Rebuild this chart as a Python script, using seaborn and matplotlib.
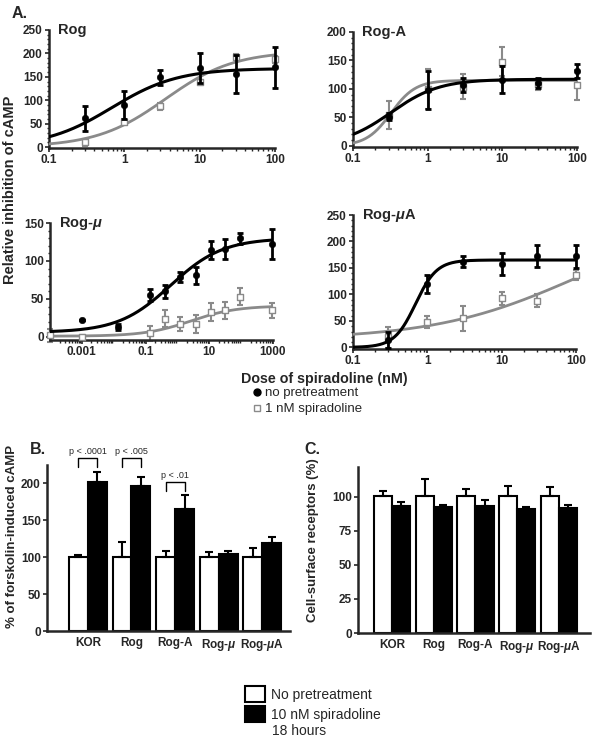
import numpy as np
import pandas as pd
import seaborn as sns
import matplotlib.pyplot as plt
from matplotlib.lines import Line2D
from matplotlib.patches import Patch
from matplotlib.ticker import FixedLocator, MultipleLocator, NullFormatter

# ---- panel A: dose-response points (mean, error) ----
dose = [0.3, 1, 3, 10, 30, 100]

rog_none = [61, 89, 149, 168, 156, 170]
rog_none_err = [26, 30, 16, 32, 40, 43]
rog_pre = [10, 54, 87, 139, 192, 187]
rog_pre_err = [8, 5, 8, 5, 6, 8]

roga_none = [51, 98, 107, 116, 111, 132]
roga_none_err = [6, 34, 12, 24, 9, 12]
roga_pre = [54, 100, 104, 148, 108, 107]
roga_pre_err = [25, 35, 22, 26, 10, 27]

mu_dose_none = [0.001, 0.014, 0.14, 0.42, 1.2, 3.7, 11, 31, 95, 950]
mu_none = [22, 13, 55, 60, 79, 81, 114, 116, 130, 122]
mu_none_err = [0, 4, 8, 9, 6, 11, 12, 13, 7, 20]
mu_dose_pre = [0.0001, 0.001, 0.14, 0.42, 1.2, 3.7, 11, 31, 95, 950]
mu_pre = [2, 0, 5, 24, 17, 17, 33, 35, 53, 35]
mu_pre_err = [8, 3, 10, 11, 9, 12, 12, 11, 11, 10]

mua_none = [14, 120, 162, 158, 172, 172]
mua_none_err = [15, 17, 11, 21, 21, 22]
mua_pre = [19, 48, 55, 93, 88, 137]
mua_pre_err = [20, 12, 24, 12, 12, 9]

# fitted curves: bottom, top, EC50 (nM), hill slope
fit_rog = [(0, 168, 0.68, 0.99), (0, 205, 3.5, 0.95)]
fit_roga = [(0, 117, 0.322, 1.34), (0, 115, 0.322, 2.64)]
fit_mu = [(6, 130, 0.61, 0.53), (1, 41, 2.6, 0.6)]
fit_mua = [(0, 165, 0.695, 3.04), (15, 250, 106, 0.45)]

# ---- panels B and C ----
receptors = ['KOR', 'Rog', 'Rog-A', 'Rog-$\\mu$', 'Rog-$\\mu$A']
treatments = ['No pretreatment', '10 nM spiradoline']
camp_none = [100, 100, 100, 100, 100]
camp_none_err = [3, 20, 8, 7, 13]
camp_pre = [202, 196, 165, 105, 119]
camp_pre_err = [13, 13, 19, 3, 8]
pvals = ['p < .0001', 'p < .005', 'p < .01']
pval_y = [234, 234, 202]

surf_none = [101, 101, 101, 101, 101]
surf_none_err = [3.5, 12, 5, 7, 6]
surf_pre = [93.5, 92.3, 93.5, 91, 91.8]
surf_pre_err = [3, 2, 4, 1.5, 2.5]

sns.set_style('ticks')
plt.rcParams['font.family'] = ['Liberation Sans', 'DejaVu Sans']
plt.rcParams['mathtext.fontset'] = 'custom'
plt.rcParams['mathtext.it'] = 'Liberation Sans:italic:bold'
plt.rcParams['mathtext.rm'] = 'Liberation Sans:bold'
plt.rcParams['mathtext.bf'] = 'Liberation Sans:bold'

GRAY = '#8a8a8a'
W, H = 600, 744
fig = plt.figure(figsize=(6, 7.44), dpi=100)


def box(l, t, r, b):
    return [l / W, 1 - b / H, (r - l) / W, (b - t) / H]


def logistic(x, p):
    bottom, top, ec50, hill = p
    return bottom + (top - bottom) / (1 + (ec50 / x) ** hill)


def style_axes(ax, lw=1.8):
    sns.despine(ax=ax)
    for s in ('left', 'bottom'):
        ax.spines[s].set_linewidth(lw)
    ax.tick_params(axis='both', which='major', labelsize=8.5, length=3, width=1.2, pad=1.5)
    for lab in ax.get_xticklabels() + ax.get_yticklabels():
        lab.set_fontweight('bold')


def dose_panel(ax, x_none, y_none, e_none, x_pre, y_pre, e_pre, fits,
               xlim, ylim, yticks, xticks, title):
    xs = np.logspace(np.log10(xlim[0]), np.log10(xlim[1]), 300)
    ax.set_xscale('log')
    # pretreated (gray) first, then untreated (black)
    ax.errorbar(x_pre, y_pre, yerr=e_pre, fmt='none', ecolor=GRAY,
                elinewidth=1.5, capsize=2, capthick=1.5, clip_on=False, zorder=2)
    sns.lineplot(x=xs, y=logistic(xs, fits[1]), color=GRAY, lw=2, ax=ax, zorder=3)
    sns.scatterplot(x=x_pre, y=y_pre, marker='s', color='white', edgecolor=GRAY,
                    linewidth=1, s=18, ax=ax, zorder=4, clip_on=False)
    ax.errorbar(x_none, y_none, yerr=e_none, fmt='none', ecolor='black',
                elinewidth=2, capsize=2.5, capthick=2, clip_on=False, zorder=5)
    sns.lineplot(x=xs, y=logistic(xs, fits[0]), color='black', lw=2.2, ax=ax, zorder=6)
    sns.scatterplot(x=x_none, y=y_none, marker='o', color='black', edgecolor='black',
                    s=22, ax=ax, zorder=7, clip_on=False)
    ax.set_xlim(*xlim)
    ax.set_ylim(*ylim)
    ax.set_yticks(yticks)
    ax.yaxis.set_minor_locator(MultipleLocator(10))
    ax.xaxis.set_major_locator(FixedLocator(xticks))
    ax.set_xticklabels(['{:g}'.format(v) for v in xticks])
    ax.xaxis.set_minor_formatter(NullFormatter())
    ax.tick_params(axis='both', which='minor', length=1.8, width=1)
    ax.set_xlabel('')
    ax.set_ylabel('')
    style_axes(ax)
    ax.text(0.04, 1.0, title, transform=ax.transAxes, fontsize=10.5,
            fontweight='bold', va='center', ha='left')


ax1 = fig.add_axes(box(49, 30, 275, 148))
dose_panel(ax1, dose, rog_none, rog_none_err, dose, rog_pre, rog_pre_err, fit_rog,
           (0.1, 100), (-2, 250), [0, 50, 100, 150, 200, 250], [0.1, 1, 10, 100], 'Rog')

ax2 = fig.add_axes(box(353, 32, 577, 147))
dose_panel(ax2, dose, roga_none, roga_none_err, dose, roga_pre, roga_pre_err, fit_roga,
           (0.1, 100), (-2, 200), [0, 50, 100, 150, 200], [0.1, 1, 10, 100], 'Rog-A')

ax3 = fig.add_axes(box(50, 223, 273, 340))
dose_panel(ax3, mu_dose_none, mu_none, mu_none_err, mu_dose_pre, mu_pre, mu_pre_err, fit_mu,
           (1e-4, 1000), (-4, 150), [0, 50, 100, 150], [0.001, 0.1, 10, 1000], 'Rog-$\\mu$')

ax4 = fig.add_axes(box(353, 215, 576, 349))
dose_panel(ax4, dose, mua_none, mua_none_err, dose, mua_pre, mua_pre_err, fit_mua,
           (0.1, 100), (-3, 250), [0, 50, 100, 150, 200, 250], [0.1, 1, 10, 100], 'Rog-$\\mu$A')

fig.text(12 / W, 1 - 13 / H, 'A.', fontsize=11.5, fontweight='bold', va='center', ha='left')
fig.text(10 / W, 1 - 190 / H, 'Relative inhibition of cAMP', rotation=90,
         fontsize=10.5, fontweight='bold', va='center', ha='center')
fig.text(324 / W, 1 - 379 / H, 'Dose of spiradoline (nM)', fontsize=10.3,
         fontweight='bold', va='center', ha='center')
handles_a = [Line2D([], [], marker='o', color='black', linestyle='none', markersize=5),
             Line2D([], [], marker='s', markerfacecolor='white', markeredgecolor=GRAY,
                    linestyle='none', markersize=4.5)]
fig.legend(handles_a, ['no pretreatment', '1 nM spiradoline'], loc='upper left',
           bbox_to_anchor=(252 / W, 1 - 387 / H), frameon=False, fontsize=9.5,
           handlelength=0.7, handletextpad=0.3, labelspacing=0.3, borderpad=0,
           borderaxespad=0)


def bar_panel(ax, none, none_err, pre, pre_err, ylim, yticks, xlim):
    df = pd.DataFrame({
        'receptor': receptors * 2,
        'treatment': [treatments[0]] * 5 + [treatments[1]] * 5,
        'value': none + pre,
    })
    sns.barplot(data=df, x='receptor', y='value', hue='treatment', order=receptors,
                hue_order=treatments, palette=['white', 'black'], edgecolor='black',
                linewidth=1.5, errorbar=None, width=0.87, legend=False, ax=ax)
    centers = [[b.get_x() + b.get_width() / 2 for b in c] for c in ax.containers[:2]]
    for xc, vals, errs in zip(centers, [none, pre], [none_err, pre_err]):
        ax.errorbar(xc, vals, yerr=[np.zeros(len(vals)), errs], fmt='none',
                    ecolor='black', elinewidth=1.5, capsize=3, capthick=1.5, zorder=1)
    ax.set_ylim(*ylim)
    ax.set_xlim(*xlim)
    ax.set_yticks(yticks)
    ax.set_xlabel('')
    ax.set_ylabel('')
    style_axes(ax)
    ax.tick_params(axis='x', length=0, pad=4)
    return centers


axb = fig.add_axes(box(47, 465, 290, 631))
centers = bar_panel(axb, camp_none, camp_none_err, camp_pre, camp_pre_err,
                    (0, 225), [0, 50, 100, 150, 200], (-0.94, 4.64))
for i, (txt, yb) in enumerate(zip(pvals, pval_y)):
    x0, x1 = centers[0][i], centers[1][i]
    axb.plot([x0, x0, x1, x1], [yb - 12, yb, yb, yb - 12], color='black', lw=1,
             clip_on=False)
    axb.text((x0 + x1) / 2, yb + 3, txt, fontsize=6.5, ha='center', va='bottom')

axc = fig.add_axes(box(358, 467, 590, 633))
bar_panel(axc, surf_none, surf_none_err, surf_pre, surf_pre_err,
          (0, 122), [0, 25, 50, 75, 100], (-0.82, 4.75))

fig.text(30 / W, 1 - 450 / H, 'B.', fontsize=11.5, fontweight='bold', va='center', ha='left')
fig.text(304 / W, 1 - 450 / H, 'C.', fontsize=11.5, fontweight='bold', va='center', ha='left')
fig.text(12 / W, 1 - 536 / H, '% of forskolin-induced cAMP', rotation=90,
         fontsize=9.5, fontweight='bold', va='center', ha='center')
fig.text(313 / W, 1 - 540 / H, 'Cell-surface receptors (%)', rotation=90,
         fontsize=9.5, fontweight='bold', va='center', ha='center')

handles_b = [Patch(facecolor='white', edgecolor='black', linewidth=1.5),
             Patch(facecolor='black', edgecolor='black', linewidth=1.5)]
fig.legend(handles_b, ['No pretreatment', '10 nM spiradoline'],
           loc='upper left', bbox_to_anchor=(245 / W, 1 - 686 / H), frameon=False,
           fontsize=10, handlelength=1.45, handleheight=1.45, handletextpad=0.45,
           labelspacing=0.25, borderpad=0, borderaxespad=0)
fig.text(272 / W, 1 - 731 / H, '18 hours', fontsize=10, va='center', ha='left')

fig.savefig('out.png', dpi=100)
